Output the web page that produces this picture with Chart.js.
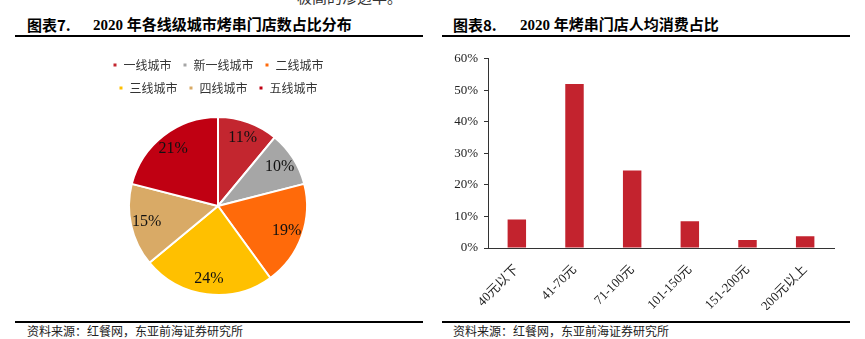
<!DOCTYPE html>
<html>
<head>
<meta charset="utf-8">
<script src="https://cdn.jsdelivr.net/npm/chart.js@4.4.1/dist/chart.umd.min.js"></script>
<style>
  body { margin: 0; background: #fff; width: 865px; height: 339px; position: relative; overflow: hidden;
         font-family: 'Liberation Serif', 'Noto Sans CJK SC', serif; }
  .abs { position: absolute; }
  .title { font-size: 15px; font-weight: bold; color: #000; line-height: 18px; white-space: nowrap; }
  .tag { font-family: 'Noto Sans CJK SC', sans-serif; }
  .rule { background: #000; height: 2px; }
  .src { font-size: 12px; color: #222; line-height: 14px; white-space: nowrap; font-family: 'Noto Sans CJK SC', sans-serif; }
</style>
</head>
<body>
<div class="abs" style="left:297px;top:-11px;font-size:15px;line-height:15px;color:#333;font-family:'Noto Sans CJK SC',sans-serif;">极高的渗透率。</div>

<div class="abs title tag" style="left:27px;top:16px;">图表7.</div>
<div class="abs title" style="left:93px;top:16px;">2020 年各线级城市烤串门店数占比分布</div>
<div class="abs rule" style="left:15px;top:35px;width:408px;"></div>

<div class="abs title tag" style="left:453px;top:16px;">图表8.</div>
<div class="abs title" style="left:520px;top:16px;">2020 年烤串门店人均消费占比</div>
<div class="abs rule" style="left:442px;top:35px;width:408px;"></div>

<div class="abs" style="left:84px;top:48px;width:268px;height:260px;"><canvas id="pieChart"></canvas></div>
<div class="abs" style="left:440px;top:45px;width:405px;height:265px;"><canvas id="barChart"></canvas></div>

<div class="abs rule" style="left:15px;top:321px;width:408px;"></div>
<div class="abs rule" style="left:442px;top:321px;width:408px;"></div>
<div class="abs src" style="left:27px;top:324px;">资料来源：红餐网，东亚前海证券研究所</div>
<div class="abs src" style="left:453px;top:324px;">资料来源：红餐网，东亚前海证券研究所</div>

<script>
// Chart data
const cityTiers = ['一线城市', '新一线城市', '二线城市', '三线城市', '四线城市', '五线城市'];
const tierShares = [11, 10, 19, 24, 15, 21];
const tierColors = ['#C3262F', '#A6A6A6', '#FF6A0A', '#FFC000', '#D9AA66', '#C00012'];

const priceBands = ['40元以下', '41-70元', '71-100元', '101-150元', '151-200元', '200元以上'];
const bandShares = [9, 52, 24.6, 8.5, 2.5, 3.7];
const yTicks = [0, 10, 20, 30, 40, 50, 60];

const serif = "'Liberation Serif', 'Noto Sans CJK SC', serif";
const cjk = "'Noto Sans CJK SC', sans-serif";

// Percent labels inside the pie slices
const sliceLabels = {
  id: 'sliceLabels',
  afterDatasetsDraw(chart) {
    const ctx = chart.ctx;
    const meta = chart.getDatasetMeta(0);
    ctx.save();
    ctx.font = '16px ' + serif;
    ctx.fillStyle = '#111';
    ctx.textAlign = 'center';
    ctx.textBaseline = 'middle';
    meta.data.forEach((arc, i) => {
      const p = arc.getProps(['x', 'y', 'startAngle', 'endAngle', 'outerRadius'], true);
      const mid = (p.startAngle + p.endAngle) / 2;
      const r = p.outerRadius * 0.82;
      ctx.fillText(tierShares[i] + '%', p.x + Math.cos(mid) * r, p.y + Math.sin(mid) * r);
    });
    ctx.restore();
  }
};

new Chart(document.getElementById('pieChart'), {
  type: 'pie',
  data: {
    labels: cityTiers,
    datasets: [{
      data: tierShares,
      backgroundColor: tierColors,
      borderColor: '#fff',
      borderWidth: 2
    }]
  },
  options: {
    responsive: true,
    maintainAspectRatio: false,
    animation: false,
    radius: 89,
    plugins: {
      legend: {
        position: 'top',
        labels: {
          boxWidth: 5,
          boxHeight: 5,
          padding: 11,
          color: '#333',
          font: { size: 12, family: cjk }
        }
      },
      tooltip: { enabled: false }
    }
  },
  plugins: [sliceLabels]
});

new Chart(document.getElementById('barChart'), {
  type: 'bar',
  data: {
    labels: priceBands,
    datasets: [{
      data: bandShares,
      backgroundColor: '#C3232E',
      categoryPercentage: 1,
      barPercentage: 0.32
    }]
  },
  options: {
    responsive: true,
    maintainAspectRatio: false,
    animation: false,
    layout: { padding: { top: 10, right: 11, left: 0, bottom: 0 } },
    plugins: { legend: { display: false }, tooltip: { enabled: false } },
    scales: {
      x: {
        grid: { display: false },
        border: { display: true, color: '#333', width: 1 },
        ticks: {
          color: '#222',
          maxRotation: 45,
          minRotation: 45,
          padding: 6,
          font: { size: 13, family: serif }
        },
        afterFit(scale) { scale.height = 62; }
      },
      y: {
        min: yTicks[0],
        max: yTicks[yTicks.length - 1],
        afterBuildTicks(scale) { scale.ticks = yTicks.map(v => ({ value: v })); },
        grid: { display: true, drawOnChartArea: false, drawTicks: true, tickLength: 4, color: '#333' },
        border: { display: true, color: '#333', width: 1 },
        ticks: {
          color: '#222',
          padding: 6,
          font: { size: 13, family: serif },
          callback: v => v + '%'
        },
        afterFit(scale) { scale.width = 48; }
      }
    }
  }
});
</script>
</body>
</html>
